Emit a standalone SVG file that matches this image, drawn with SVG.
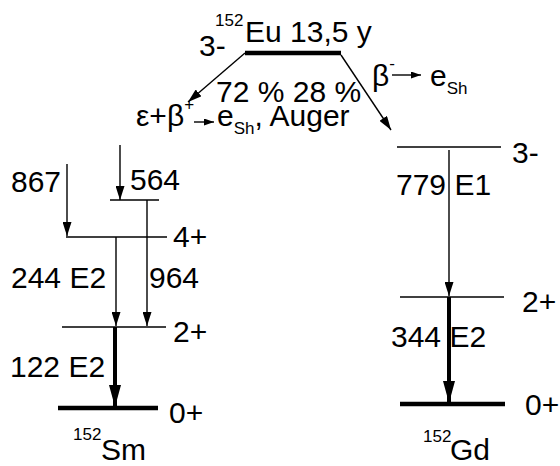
<svg xmlns="http://www.w3.org/2000/svg" width="560" height="466" viewBox="0 0 560 466">
<style>
text{font-family:"Liberation Sans",Arial,sans-serif;font-size:30px;fill:#000}
.sup{font-size:17px}
.lv{stroke:#000;stroke-width:1.4;fill:none}
.lvt{stroke:#000;stroke-width:4.5;fill:none}
.ar{stroke:#000;stroke-width:1.4;fill:none;marker-end:url(#ah)}
.art{stroke:#000;stroke-width:4;fill:none;marker-end:url(#aht)}
.ars{stroke:#000;stroke-width:1.4;fill:none;marker-end:url(#ahs)}
</style>
<defs>
<marker id="ah" viewBox="0 0 14 9" refX="14" refY="4.5" markerWidth="14" markerHeight="9" markerUnits="userSpaceOnUse" orient="auto"><path d="M0,0 L14,4.5 L0,9 z" fill="#000"/></marker>
<marker id="aht" viewBox="0 0 22 12" refX="22" refY="6" markerWidth="22" markerHeight="12" markerUnits="userSpaceOnUse" orient="auto"><path d="M0,0 L22,6 L0,12 z" fill="#000"/></marker>
<marker id="ahs" viewBox="0 0 10 7" refX="10" refY="3.5" markerWidth="10" markerHeight="7" markerUnits="userSpaceOnUse" orient="auto"><path d="M0,0 L10,3.5 L0,7 z" fill="#000"/></marker>
</defs>

<g id="eu">
<line class="lvt" x1="245" y1="53" x2="341" y2="53"/>
<text x="199" y="56">3-</text>
<text x="215" y="26" class="sup">152</text>
<text x="245" y="42">Eu 13,5 y</text>
</g>

<g id="sm-564">
<line class="lv" x1="110" y1="200" x2="159" y2="200"/>
</g>
<g id="sm-4">
<line class="lv" x1="66" y1="237" x2="167" y2="237"/>
<text x="173" y="247">4+</text>
</g>
<g id="sm-2">
<line class="lv" x1="62" y1="327" x2="166" y2="327"/>
<text x="173" y="342">2+</text>
</g>
<g id="sm-0">
<line class="lvt" x1="58" y1="408" x2="158" y2="408"/>
<text x="169" y="423">0+</text>
<text x="73" y="440" class="sup">152</text>
<text x="101" y="460">Sm</text>
</g>

<g id="gd-3">
<line class="lv" x1="397" y1="147" x2="501" y2="147"/>
<text x="512" y="163">3-</text>
</g>
<g id="gd-2">
<line class="lv" x1="400" y1="297" x2="504" y2="297"/>
<text x="522" y="312">2+</text>
</g>
<g id="gd-0">
<line class="lvt" x1="400" y1="404" x2="505" y2="404"/>
<text x="525" y="415">0+</text>
<text x="423" y="442" class="sup">152</text>
<text x="450" y="460">Gd</text>
</g>

<g id="labels">
<text x="216" y="102">72 % 28 %</text>
<text x="136" y="126">ε+β<tspan class="sup" dy="-16">+</tspan><tspan dy="16" x="217">e</tspan><tspan class="sup" dy="8">Sh</tspan><tspan dy="-8">, Auger</tspan></text>
<text x="372" y="86">β<tspan class="sup" dy="-17">-</tspan><tspan dy="17" x="430">e</tspan><tspan class="sup" dy="8">Sh</tspan></text>
<text x="11" y="192">867</text>
<text x="130" y="190">564</text>
<text x="11" y="288">244 E2</text>
<text x="149" y="288">964</text>
<text x="10" y="377">122 E2</text>
<text x="396" y="195">779 E1</text>
<text x="391" y="347">344 E2</text>
</g>

<g id="connectors">
<line class="ar" x1="245" y1="53" x2="188" y2="102"/>
<line class="ar" x1="341" y1="55" x2="391" y2="130"/>
<line class="ars" x1="194" y1="122" x2="214" y2="122"/>
<line class="ars" x1="392" y1="75" x2="421" y2="75"/>
<line class="ar" x1="120" y1="145" x2="120" y2="200"/>
<line class="ar" x1="67" y1="164" x2="67" y2="236"/>
<line class="ar" x1="116" y1="237" x2="116" y2="326"/>
<line class="ar" x1="147" y1="200" x2="147" y2="326"/>
<line class="art" x1="115" y1="327" x2="115" y2="407"/>
<line class="ar" x1="449" y1="150" x2="449" y2="296"/>
<line class="art" x1="449" y1="297" x2="449" y2="403"/>
</g>
</svg>
